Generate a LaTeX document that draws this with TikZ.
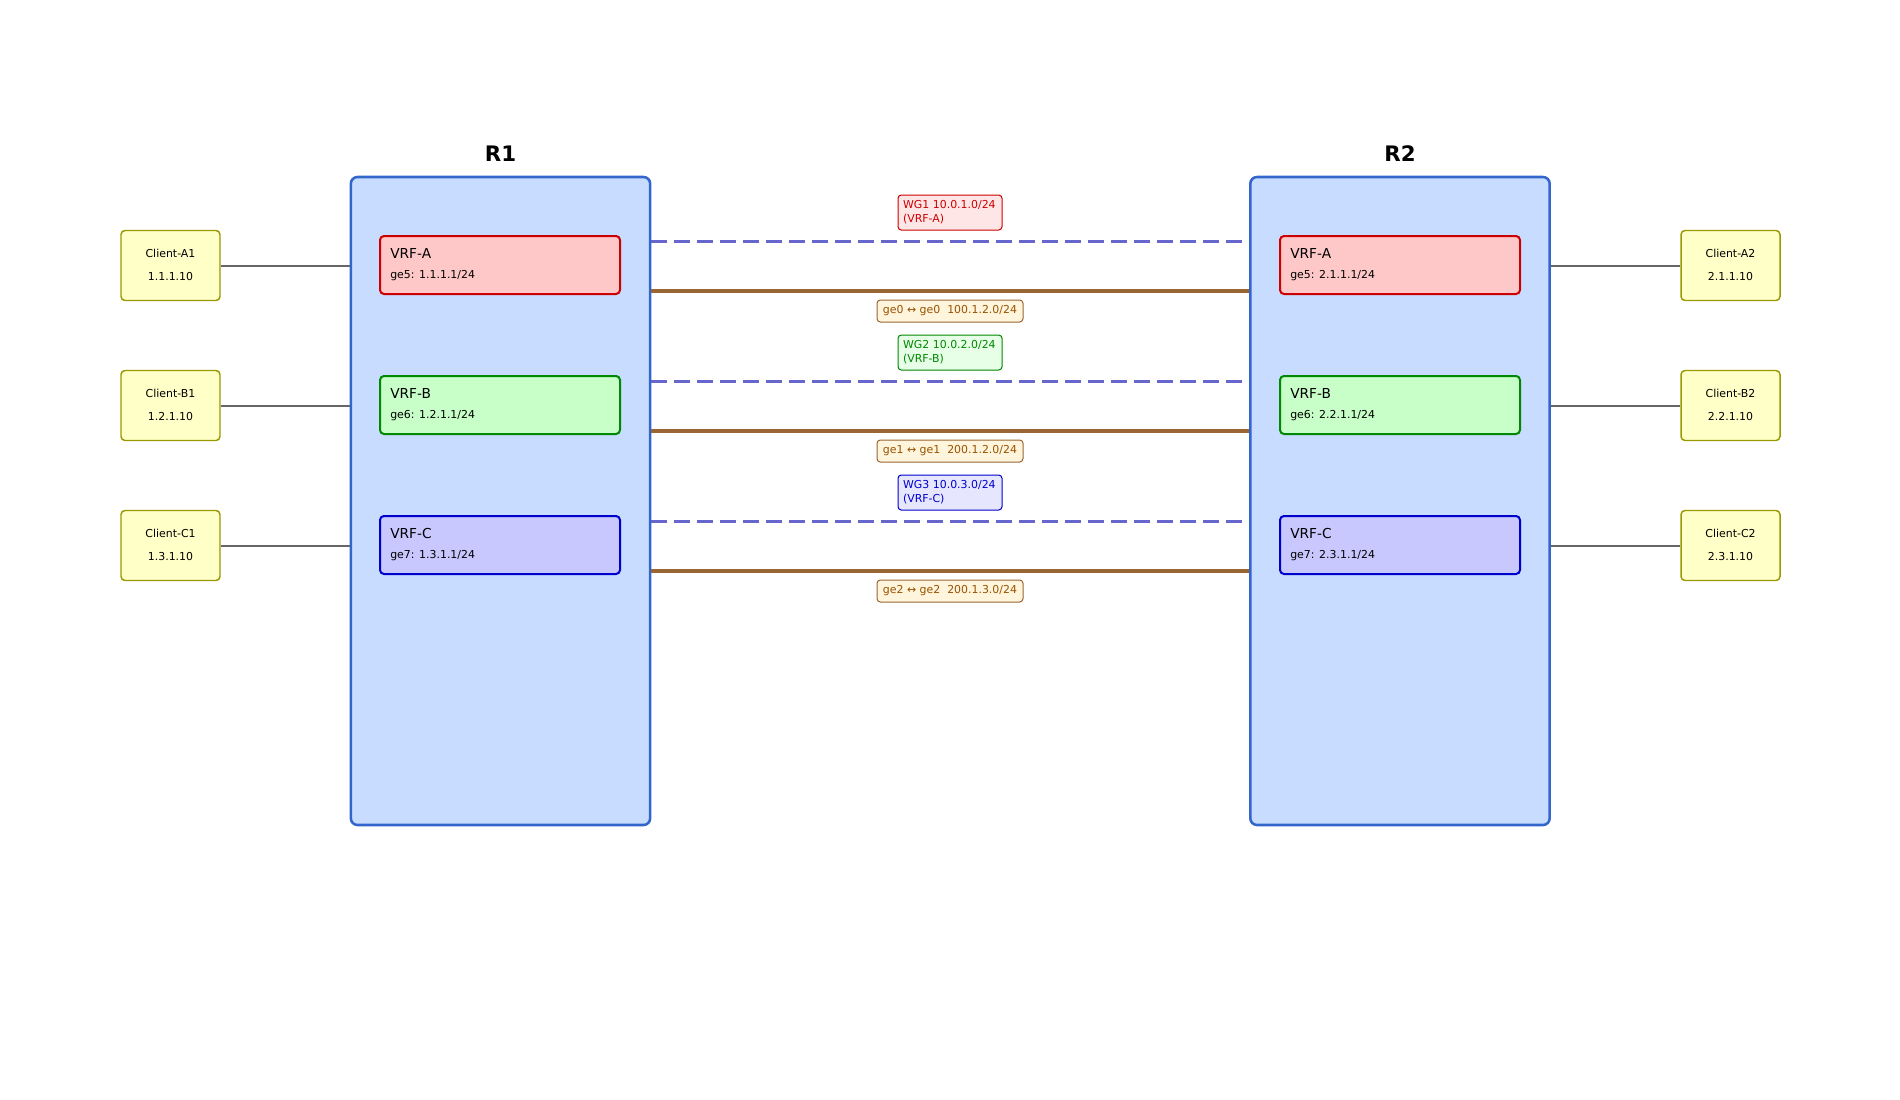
\documentclass[tikz,border=0pt]{standalone}
\usepackage{fontspec}
\setmainfont{DejaVu Sans}
\definecolor{rfill}{HTML}{C8DCFF}
\definecolor{rline}{HTML}{3366CC}
\definecolor{afill}{HTML}{FFC8C8}
\definecolor{aline}{HTML}{CC0000}
\definecolor{bfill}{HTML}{C8FFC8}
\definecolor{bline}{HTML}{008800}
\definecolor{cfill}{HTML}{C8C8FF}
\definecolor{cline}{HTML}{0000CC}
\definecolor{clfill}{HTML}{FFFFC8}
\definecolor{clline}{HTML}{999900}
\definecolor{wgline}{HTML}{6666CC}
\definecolor{brown}{HTML}{996633}
\definecolor{gefill}{HTML}{FFF5DC}
\definecolor{getext}{HTML}{995200}
\definecolor{wgafill}{HTML}{FFE6E6}
\definecolor{wgbfill}{HTML}{E6FFE6}
\definecolor{wgcfill}{HTML}{E6E6FF}
\begin{document}
\begin{tikzpicture}[x=0.75pt,y=-0.75pt,
  router/.style={draw=rline,fill=rfill,line width=1.9pt,rounded corners=5pt,minimum width=224.5pt,minimum height=486pt,inner sep=0pt},
  rtitle/.style={font=\fontsize{16}{19}\selectfont\bfseries},
  vrfbox/.style={line width=1.5pt,rounded corners=3pt,minimum width=180pt,minimum height=43.5pt,inner sep=0pt},
  vrfname/.style={anchor=west,inner sep=0pt,font=\fontsize{10.3}{12}\selectfont},
  vrfip/.style={anchor=west,inner sep=0pt,font=\fontsize{8.2}{10}\selectfont},
  client/.style={draw=clline,fill=clfill,line width=1.1pt,rounded corners=3pt,minimum width=74.25pt,minimum height=52.5pt,inner sep=0pt,align=center,font=\fontsize{8.2}{17.25}\selectfont},
  clink/.style={draw=black!60,line width=1.5pt},
  wglink/.style={draw=wgline,line width=2.25pt,dash pattern=on 12pt off 5.25pt},
  phys/.style={draw=brown,line width=2.6pt},
  wglabel/.style={line width=0.75pt,rounded corners=2.5pt,align=left,text width=70.5pt,inner xsep=3.75pt,inner ysep=0pt,minimum height=26.25pt,font=\fontsize{8.2}{10.5}\selectfont},
  gelabel/.style={draw=brown,fill=gefill,text=getext,line width=0.75pt,rounded corners=2.5pt,minimum width=109.5pt,minimum height=16.5pt,inner sep=0pt,font=\fontsize{8.2}{10}\selectfont}]
\useasboundingbox (0,0) rectangle (1900,1100);

% routers
\node[router] (R1) at (500.5,501) {};
\node[router] (R2) at (1400,501) {};
\node[rtitle] (R1t) at (500.5,154) {R1};
\node[rtitle] (R2t) at (1400,154) {R2};

% VRFs R1
\node[vrfbox,draw=aline,fill=afill] (R1A) at (500,265) {};
\node[vrfbox,draw=bline,fill=bfill] (R1B) at (500,405) {};
\node[vrfbox,draw=cline,fill=cfill] (R1C) at (500,545) {};
\node[vrfname] (R1An) at (390,253) {VRF-A};
\node[vrfip] (R1Ai) at (390,276) {ge5: 1.1.1.1/24};
\node[vrfname] (R1Bn) at (390,393) {VRF-B};
\node[vrfip] (R1Bi) at (390,416) {ge6: 1.2.1.1/24};
\node[vrfname] (R1Cn) at (390,533) {VRF-C};
\node[vrfip] (R1Ci) at (390,556) {ge7: 1.3.1.1/24};

% VRFs R2
\node[vrfbox,draw=aline,fill=afill] (R2A) at (1400,265) {};
\node[vrfbox,draw=bline,fill=bfill] (R2B) at (1400,405) {};
\node[vrfbox,draw=cline,fill=cfill] (R2C) at (1400,545) {};
\node[vrfname] (R2An) at (1290,253) {VRF-A};
\node[vrfip] (R2Ai) at (1290,276) {ge5: 2.1.1.1/24};
\node[vrfname] (R2Bn) at (1290,393) {VRF-B};
\node[vrfip] (R2Bi) at (1290,416) {ge6: 2.2.1.1/24};
\node[vrfname] (R2Cn) at (1290,533) {VRF-C};
\node[vrfip] (R2Ci) at (1290,556) {ge7: 2.3.1.1/24};

% clients
\node[client] (CA1) at (170.5,265.5) {\raisebox{1pt}{Client-A1}\\\raisebox{1pt}{1.1.1.10}};
\node[client] (CB1) at (170.5,405.5) {\raisebox{1pt}{Client-B1}\\\raisebox{1pt}{1.2.1.10}};
\node[client] (CC1) at (170.5,545.5) {\raisebox{1pt}{Client-C1}\\\raisebox{1pt}{1.3.1.10}};
\node[client] (CA2) at (1730.5,265.5) {\raisebox{1pt}{Client-A2}\\\raisebox{1pt}{2.1.1.10}};
\node[client] (CB2) at (1730.5,405.5) {\raisebox{1pt}{Client-B2}\\\raisebox{1pt}{2.2.1.10}};
\node[client] (CC2) at (1730.5,545.5) {\raisebox{1pt}{Client-C2}\\\raisebox{1pt}{2.3.1.10}};

\draw[clink] (CA1.east) -- (CA1.east -| R1.west);
\draw[clink] (CB1.east) -- (CB1.east -| R1.west);
\draw[clink] (CC1.east) -- (CC1.east -| R1.west);
\draw[clink] (CA2.west) -- (CA2.west -| R2.east);
\draw[clink] (CB2.west) -- (CB2.west -| R2.east);
\draw[clink] (CC2.west) -- (CC2.west -| R2.east);

% tunnels and physical links
\coordinate (wA) at (950,241);
\coordinate (wB) at (950,381);
\coordinate (wC) at (950,521);
\coordinate (pA) at (950,291);
\coordinate (pB) at (950,431);
\coordinate (pC) at (950,571);
\draw[wglink] (wA -| R1.east) -- (wA -| R2.west);
\draw[wglink] (wB -| R1.east) -- (wB -| R2.west);
\draw[wglink] (wC -| R1.east) -- (wC -| R2.west);
\draw[phys] (pA -| R1.east) -- (pA -| R2.west);
\draw[phys] (pB -| R1.east) -- (pB -| R2.west);
\draw[phys] (pC -| R1.east) -- (pC -| R2.west);

% labels
\node[wglabel,draw=aline,fill=wgafill,text=aline] (WG1) at (950,212.5) {WG1 10.0.1.0/24\\(VRF-A)};
\node[wglabel,draw=bline,fill=wgbfill,text=bline] (WG2) at (950,352.5) {WG2 10.0.2.0/24\\(VRF-B)};
\node[wglabel,draw=cline,fill=wgcfill,text=cline] (WG3) at (950,492.5) {WG3 10.0.3.0/24\\(VRF-C)};
\node[gelabel] (GE0) at (950,311) {ge0 ↔ ge0\ \ 100.1.2.0/24};
\node[gelabel] (GE1) at (950,451) {ge1 ↔ ge1\ \ 200.1.2.0/24};
\node[gelabel] (GE2) at (950,591) {ge2 ↔ ge2\ \ 200.1.3.0/24};
\end{tikzpicture}
\end{document}
